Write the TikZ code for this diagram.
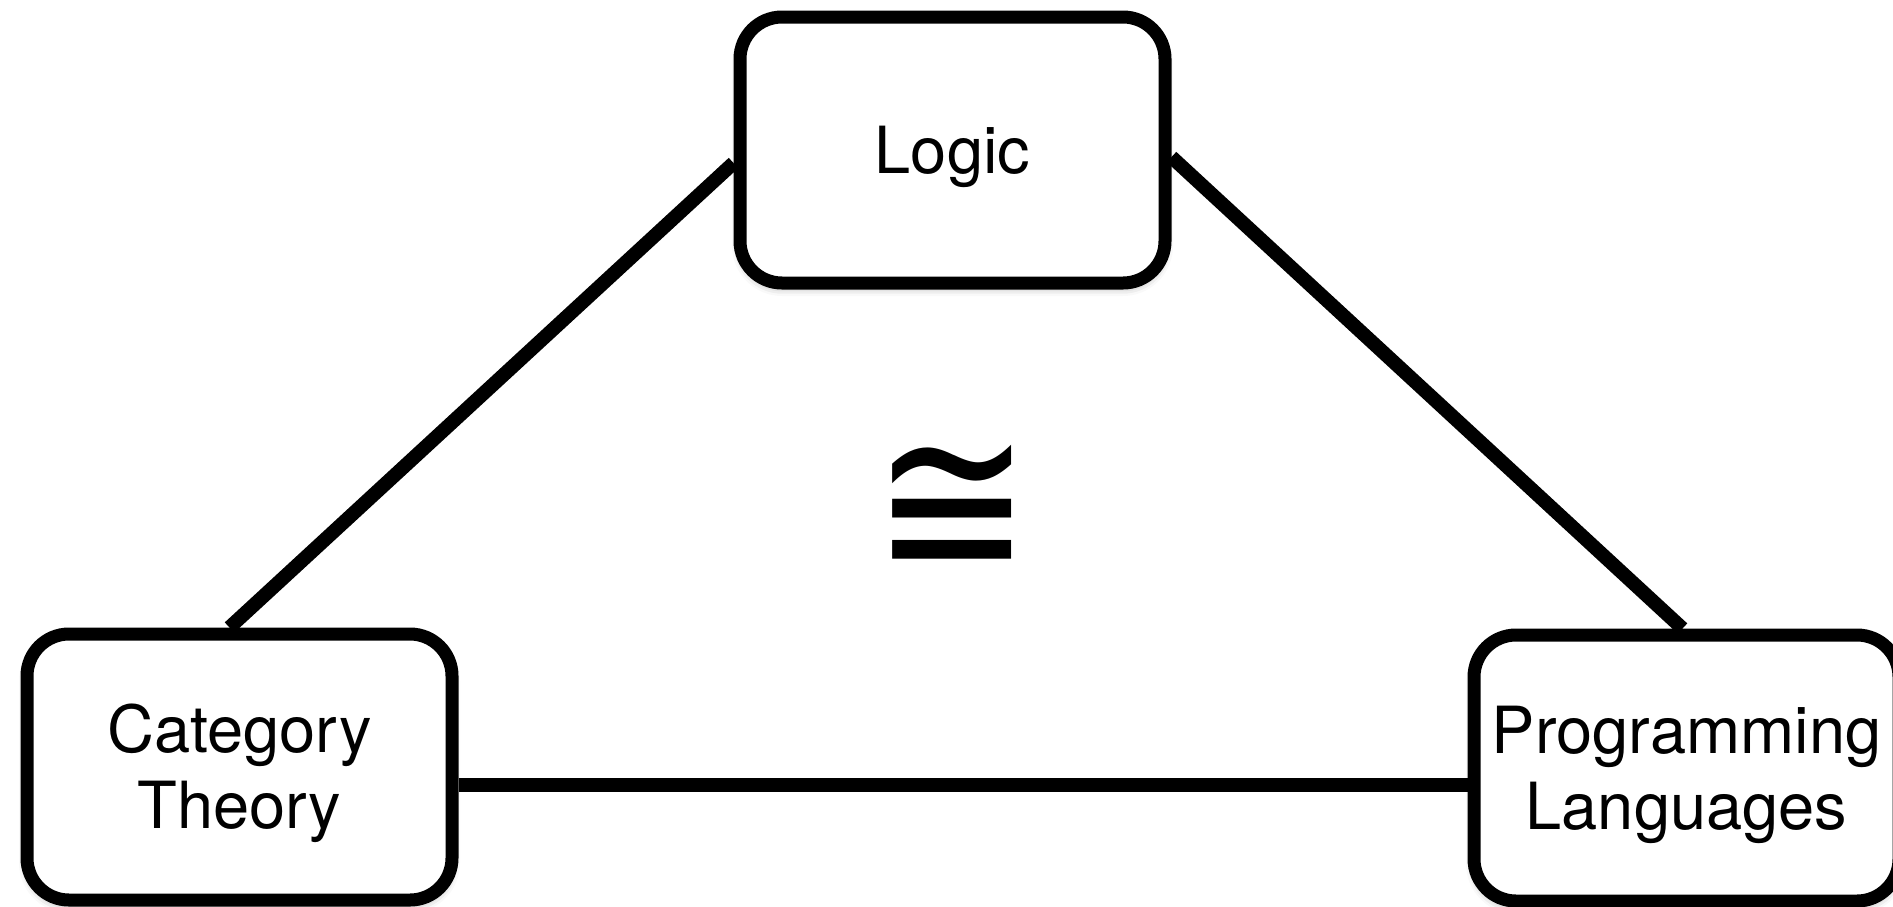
\documentclass[tikz,border=0pt]{standalone}
\usepackage{fontspec}
\setmainfont{TeX Gyre Heros}
\newfontfamily\symfont{DejaVu Sans}
\usetikzlibrary{shadows.blur}
\pgfdeclarelayer{bg}
\pgfsetlayers{bg,main}
\begin{document}
\begin{tikzpicture}[x=0.5pt,y=-0.5pt,
  fieldbox/.style={draw=black, fill=white, line width=6.5pt,
    rounded corners=21pt, minimum width=212.5pt, minimum height=133pt,
    inner sep=0pt, align=center, text height=23.5pt, text depth=0pt,
    font={\fontsize{32.5pt}{38pt}\selectfont},
    blur shadow={shadow xshift=0pt, shadow yshift=-2.5pt,
      shadow blur radius=4pt, shadow opacity=35}},
  twolines/.style={text height=61.5pt},
  link/.style={draw=black, line width=7pt}]
  \useasboundingbox (0,0) rectangle (1893,906);

  % the three fields
  \node[fieldbox] (L) at (952.5,150) {Logic};
  \node[fieldbox, twolines] (C) at (239.5,767) {Category\\Theory};
  \node[fieldbox, twolines] (P) at (1686.5,768) {Programming\\Languages};

  % isomorphism sign in the middle
  \node[inner sep=0pt, font={\symfont\fontsize{95pt}{95pt}\selectfont}] (iso) at (952,512) {\scalebox{1}[1.19]{≅}};

  % connectors behind the boxes
  \begin{pgfonlayer}{bg}
    \draw[link] ([yshift=-6.5pt]L.west) -- ([xshift=-5pt]C.north);
    \draw[link] ([yshift=-3.5pt]L.east) -- ([xshift=-2pt]P.north);
    \draw[link] ([yshift=-9pt]C.east) -- ([yshift=-8.5pt]P.west);
  \end{pgfonlayer}
\end{tikzpicture}
\end{document}
